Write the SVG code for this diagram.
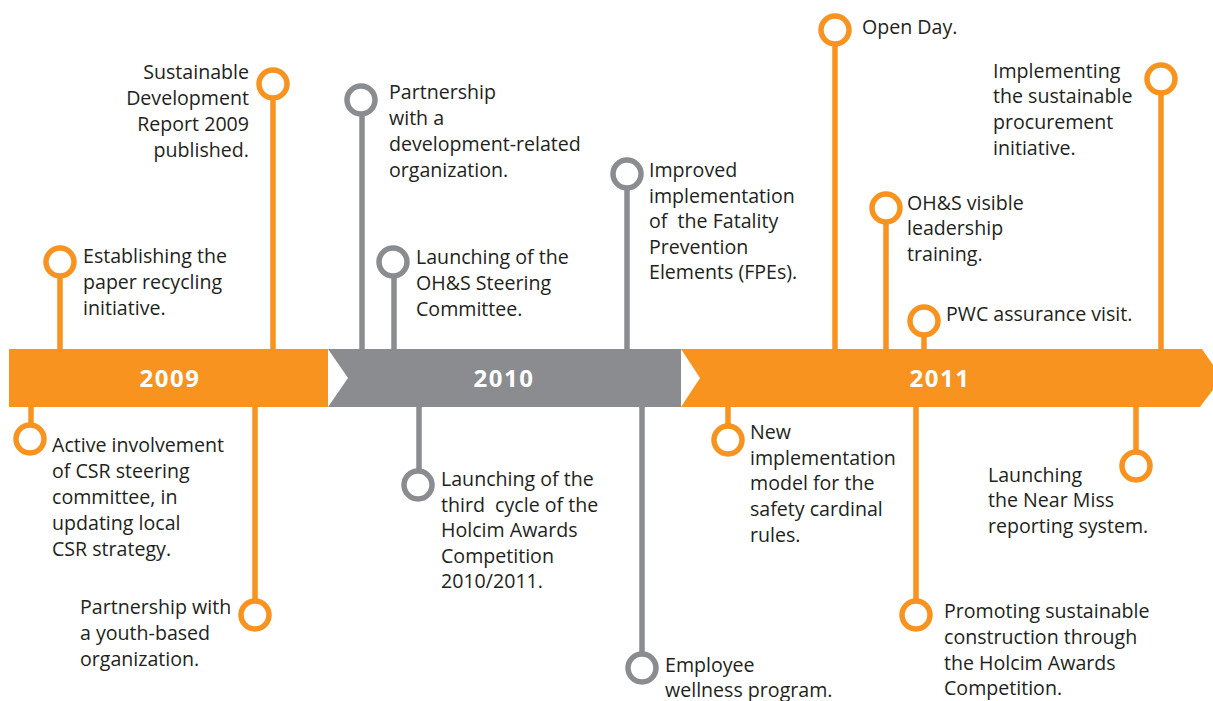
<svg xmlns="http://www.w3.org/2000/svg" width="1213" height="701" viewBox="0 0 1213 701">
<style>
.t{font-family:"Open Sans","Noto Sans","Liberation Sans",sans-serif;font-size:19.6px;fill:#231f20}
.r{text-anchor:end}
.yr{font-family:"Open Sans","Noto Sans","Liberation Sans",sans-serif;font-size:24px;font-weight:bold;fill:#fff;text-anchor:middle;letter-spacing:1.5px}
.o{stroke:#f7931e;stroke-width:5.5;fill:none}
.g{stroke:#8b8c90;stroke-width:5.5;fill:none}
.co{stroke:#f7931e;stroke-width:5.5;fill:#fff}
.cg{stroke:#8b8c90;stroke-width:5.5;fill:#fff}
</style>
<rect width="1213" height="701" fill="#fff"/>
<g id="connectors">
<line class="o" x1="60" y1="262" x2="60" y2="350"/>
<line class="o" x1="273" y1="84" x2="273" y2="350"/>
<line class="o" x1="31" y1="406" x2="31" y2="439"/>
<line class="o" x1="255" y1="406" x2="255" y2="615"/>
<line class="g" x1="362" y1="100" x2="362" y2="350"/>
<line class="g" x1="394" y1="262" x2="394" y2="350"/>
<line class="g" x1="627" y1="174" x2="627" y2="350"/>
<line class="g" x1="419" y1="406" x2="419" y2="485"/>
<line class="g" x1="642" y1="406" x2="642" y2="668"/>
<line class="o" x1="835" y1="30" x2="835" y2="350"/>
<line class="o" x1="1161" y1="79" x2="1161" y2="350"/>
<line class="o" x1="886" y1="208" x2="886" y2="350"/>
<line class="o" x1="924" y1="321" x2="924" y2="350"/>
<line class="o" x1="728" y1="406" x2="728" y2="440"/>
<line class="o" x1="916" y1="406" x2="916" y2="615"/>
<line class="o" x1="1136" y1="406" x2="1136" y2="466"/>
</g>
<g id="band-2009">
<rect x="9" y="349" width="320" height="58" fill="#f7931e"/>
<text class="yr" x="170" y="387">2009</text>
</g>
<g id="band-2010">
<polygon points="328,349 682,349 682,407 328,407" fill="#8b8c90"/>
<polygon points="328,349 348,378 328,407" fill="#fff"/>
<text class="yr" x="504" y="387">2010</text>
</g>
<g id="band-2011">
<polygon points="681,349 1202,349 1222,378 1200,407 681,407" fill="#f7931e"/>
<polygon points="681,349 700,378 681,407" fill="#fff"/>
<text class="yr" x="940" y="387">2011</text>
</g>
<g id="n-paper">
<circle class="co" cx="60" cy="262" r="14"/>
<text class="t" x="83" y="263">Establishing the</text>
<text class="t" x="83" y="289">paper recycling</text>
<text class="t" x="83" y="315">initiative.</text>
</g>
<g id="n-sdr">
<circle class="co" cx="273" cy="84" r="14"/>
<text class="t r" x="249" y="79">Sustainable</text>
<text class="t r" x="249" y="105">Development</text>
<text class="t r" x="249" y="131">Report 2009</text>
<text class="t r" x="249" y="157">published.</text>
</g>
<g id="n-csr">
<circle class="co" cx="30" cy="439" r="14"/>
<text class="t" x="52" y="452">Active involvement</text>
<text class="t" x="52" y="478">of CSR steering</text>
<text class="t" x="52" y="504">committee, in</text>
<text class="t" x="52" y="530">updating local</text>
<text class="t" x="52" y="556">CSR strategy.</text>
</g>
<g id="n-youth">
<circle class="co" cx="255" cy="615" r="14"/>
<text class="t" x="80" y="614">Partnership with</text>
<text class="t" x="80" y="640">a youth-based</text>
<text class="t" x="80" y="666">organization.</text>
</g>
<g id="n-devorg">
<circle class="cg" cx="361" cy="100" r="14"/>
<text class="t" x="389" y="99">Partnership</text>
<text class="t" x="389" y="125">with a</text>
<text class="t" x="389" y="151">development-related</text>
<text class="t" x="389" y="177">organization.</text>
</g>
<g id="n-ohs-committee">
<circle class="cg" cx="393" cy="262" r="14"/>
<text class="t" x="416" y="264">Launching of the</text>
<text class="t" x="416" y="290">OH&amp;S Steering</text>
<text class="t" x="416" y="316">Committee.</text>
</g>
<g id="n-fpe">
<circle class="cg" cx="627" cy="174" r="14"/>
<text class="t" x="649" y="177">Improved</text>
<text class="t" x="649" y="203">implementation</text>
<text class="t" x="649" y="228" xml:space="preserve">of  the Fatality</text>
<text class="t" x="649" y="254">Prevention</text>
<text class="t" x="649" y="279">Elements (FPEs).</text>
</g>
<g id="n-awards-2010">
<circle class="cg" cx="418" cy="485" r="14"/>
<text class="t" x="441" y="486">Launching of the</text>
<text class="t" x="441" y="512" xml:space="preserve">third  cycle of the</text>
<text class="t" x="441" y="537">Holcim Awards</text>
<text class="t" x="441" y="563">Competition</text>
<text class="t" x="441" y="588">2010/2011.</text>
</g>
<g id="n-wellness">
<circle class="cg" cx="642" cy="668" r="14"/>
<text class="t" x="665" y="672">Employee</text>
<text class="t" x="665" y="697">wellness program.</text>
</g>
<g id="n-openday">
<circle class="co" cx="835" cy="30" r="14"/>
<text class="t" x="862" y="34">Open Day.</text>
</g>
<g id="n-procurement">
<circle class="co" cx="1161" cy="79" r="14"/>
<text class="t" x="993" y="78">Implementing</text>
<text class="t" x="993" y="103">the sustainable</text>
<text class="t" x="993" y="129">procurement</text>
<text class="t" x="993" y="155">initiative.</text>
</g>
<g id="n-leadership">
<circle class="co" cx="886" cy="208" r="14"/>
<text class="t" x="907" y="210">OH&amp;S visible</text>
<text class="t" x="907" y="235">leadership</text>
<text class="t" x="907" y="261">training.</text>
</g>
<g id="n-pwc">
<circle class="co" cx="924" cy="321" r="14"/>
<text class="t" x="946" y="321">PWC assurance visit.</text>
</g>
<g id="n-cardinal">
<circle class="co" cx="728" cy="440" r="14"/>
<text class="t" x="750" y="439">New</text>
<text class="t" x="750" y="465">implementation</text>
<text class="t" x="750" y="490">model for the</text>
<text class="t" x="750" y="516">safety cardinal</text>
<text class="t" x="750" y="542">rules.</text>
</g>
<g id="n-awards-2011">
<circle class="co" cx="916" cy="615" r="14"/>
<text class="t" x="944" y="618">Promoting sustainable</text>
<text class="t" x="944" y="644">construction through</text>
<text class="t" x="944" y="670">the Holcim Awards</text>
<text class="t" x="944" y="695">Competition.</text>
</g>
<g id="n-nearmiss">
<circle class="co" cx="1136" cy="466" r="14"/>
<text class="t" x="988" y="482">Launching</text>
<text class="t" x="988" y="507">the Near Miss</text>
<text class="t" x="988" y="533">reporting system.</text>
</g>
</svg>
